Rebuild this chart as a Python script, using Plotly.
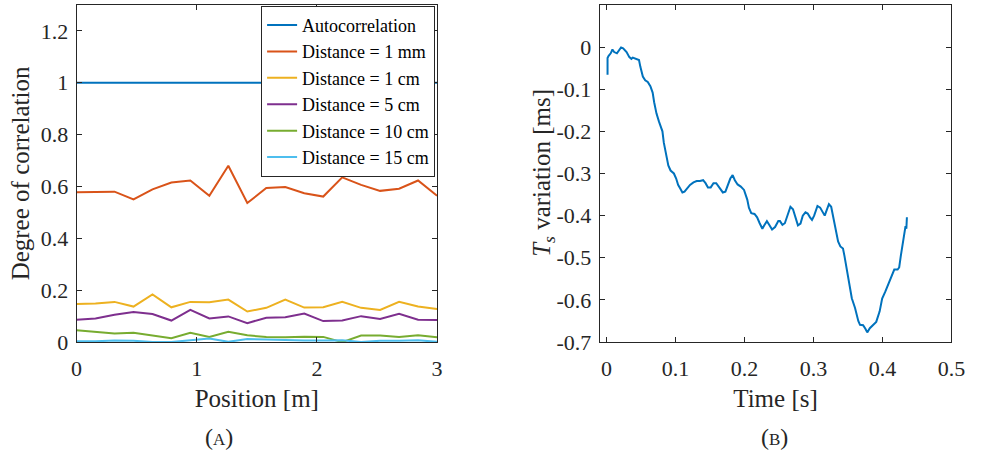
import plotly.graph_objects as go

# ---------------- Data: panel (A) ----------------
position_m = [0, 0.158, 0.316, 0.474, 0.632, 0.789, 0.947, 1.105, 1.263, 1.421,
              1.579, 1.737, 1.895, 2.053, 2.211, 2.368, 2.526, 2.684, 2.842, 3.0]
autocorr = [1.0] * 20
dist_1mm = [0.578, 0.579, 0.580, 0.550, 0.589, 0.615, 0.623, 0.564, 0.680, 0.536,
            0.594, 0.598, 0.574, 0.561, 0.635, 0.606, 0.583, 0.591, 0.623, 0.564]
dist_1cm = [0.147, 0.149, 0.155, 0.137, 0.184, 0.134, 0.155, 0.154, 0.164, 0.118,
            0.132, 0.164, 0.133, 0.134, 0.155, 0.132, 0.124, 0.155, 0.137, 0.128]
dist_5cm = [0.086, 0.091, 0.105, 0.116, 0.108, 0.083, 0.124, 0.091, 0.099, 0.073,
            0.094, 0.096, 0.110, 0.081, 0.083, 0.100, 0.089, 0.109, 0.086, 0.085]
dist_10cm = [0.046, 0.039, 0.033, 0.036, 0.026, 0.015, 0.036, 0.020, 0.040, 0.026,
             0.020, 0.019, 0.021, 0.020, 0.000, 0.025, 0.025, 0.020, 0.026, 0.019]
dist_15cm = [0.003, 0.003, 0.006, 0.005, 0.000, 0.000, 0.007, 0.014, 0.001, 0.012,
             0.010, 0.007, 0.006, 0.006, 0.007, 0.000, 0.005, 0.005, 0.007, 0.001]
series_names = ["Autocorrelation", "Distance = 1 mm", "Distance = 1 cm",
                "Distance = 5 cm", "Distance = 10 cm", "Distance = 15 cm"]
series_colors = ["#0072BD", "#D95319", "#EDB120", "#7E2F8E", "#77AC30", "#4DBEEE"]

# ---------------- Data: panel (B) ----------------
time_s = [0.0014, 0.0014, 0.003, 0.006, 0.0085, 0.011, 0.015, 0.0175, 0.021, 0.024,
          0.029, 0.033, 0.036, 0.038, 0.043, 0.047, 0.049, 0.0526, 0.056, 0.0597,
          0.0635, 0.0668, 0.069, 0.0724, 0.076, 0.081, 0.083, 0.0866, 0.0895, 0.0928,
          0.0976, 0.1009, 0.1037, 0.107, 0.110, 0.113, 0.1165, 0.121, 0.126, 0.1307,
          0.1354, 0.140, 0.1435, 0.147, 0.151, 0.155, 0.159, 0.164, 0.1686, 0.1723,
          0.1757, 0.1794, 0.1828, 0.186, 0.190, 0.1946, 0.1993, 0.2017, 0.204, 0.2064,
          0.2098, 0.2145, 0.2183, 0.222, 0.2259, 0.2287, 0.2325, 0.236, 0.240, 0.2443,
          0.249, 0.2514, 0.255, 0.2585, 0.2618, 0.2666, 0.2703, 0.2737, 0.2775, 0.2812,
          0.2845, 0.2884, 0.2916, 0.295, 0.2979, 0.301, 0.3058, 0.3097, 0.313, 0.3163,
          0.3192, 0.3224, 0.3257, 0.328, 0.332, 0.3357, 0.339, 0.3428, 0.345, 0.3485,
          0.3518, 0.3556, 0.3603, 0.365, 0.3675, 0.372, 0.3755, 0.378, 0.3817, 0.386,
          0.391, 0.396, 0.3996, 0.404, 0.4087, 0.4138, 0.4172, 0.422, 0.4243, 0.4266,
          0.4304, 0.4323, 0.4335, 0.4347, 0.4355]
ts_variation_ms = [-0.066, -0.026, -0.021, -0.015, -0.006, -0.012, -0.015, -0.0085, -0.001, -0.003,
                   -0.012, -0.024, -0.028, -0.025, -0.028, -0.031, -0.047, -0.070, -0.079, -0.083,
                   -0.093, -0.108, -0.131, -0.158, -0.177, -0.200, -0.227, -0.258, -0.281, -0.293,
                   -0.300, -0.312, -0.327, -0.336, -0.345, -0.343, -0.335, -0.327, -0.321, -0.318,
                   -0.318, -0.316, -0.323, -0.333, -0.333, -0.323, -0.323, -0.335, -0.345, -0.343,
                   -0.327, -0.312, -0.304, -0.316, -0.326, -0.331, -0.339, -0.350, -0.362, -0.381,
                   -0.394, -0.396, -0.404, -0.418, -0.431, -0.423, -0.413, -0.422, -0.433, -0.427,
                   -0.413, -0.413, -0.422, -0.418, -0.400, -0.379, -0.385, -0.406, -0.423, -0.419,
                   -0.400, -0.392, -0.395, -0.404, -0.410, -0.400, -0.377, -0.381, -0.392, -0.400,
                   -0.387, -0.373, -0.379, -0.400, -0.435, -0.461, -0.473, -0.478, -0.496, -0.531,
                   -0.565, -0.596, -0.619, -0.650, -0.659, -0.660, -0.669, -0.677, -0.667, -0.661,
                   -0.652, -0.627, -0.597, -0.581, -0.561, -0.538, -0.528, -0.528, -0.523, -0.496,
                   -0.458, -0.431, -0.425, -0.431, -0.404]

a_xticks = [0, 1, 2, 3]
a_xticklabels = ["0", "1", "2", "3"]
a_yticks = [0, 0.2, 0.4, 0.6, 0.8, 1.0, 1.2]
a_yticklabels = ["0", "0.2", "0.4", "0.6", "0.8", "1", "1.2"]
b_xticks = [0, 0.1, 0.2, 0.3, 0.4, 0.5]
b_xticklabels = ["0", "0.1", "0.2", "0.3", "0.4", "0.5"]
b_yticks = [0, -0.1, -0.2, -0.3, -0.4, -0.5, -0.6, -0.7]
b_yticklabels = ["0", "-0.1", "-0.2", "-0.3", "-0.4", "-0.5", "-0.6", "-0.7"]

# ---------------- Figure ----------------
W, H = 984, 462
FONT = "Liberation Serif"
AX = "#262626"
TICKF = dict(family=FONT, size=22, color=AX)
TITLEF = dict(family=FONT, size=25, color=AX)


def px(x):
    return x / W


def py(y):
    return 1 - y / H


def axis(domain, rng, tickvals, ticktext, anchor, tls, title=None, standoff=0):
    d = dict(domain=domain, range=rng, tickmode="array", tickvals=tickvals,
             ticktext=ticktext, anchor=anchor,
             showline=True, linecolor=AX, linewidth=1, mirror="allticks",
             ticks="inside", ticklen=5, tickcolor=AX, tickwidth=1,
             ticklabelstandoff=tls,
             showgrid=False, zeroline=False, tickfont=TICKF)
    if title:
        d["title"] = dict(text=title, font=TITLEF, standoff=standoff)
    return d


fig = go.Figure()
all_a = [autocorr, dist_1mm, dist_1cm, dist_5cm, dist_10cm, dist_15cm]
for name, col, vals in zip(series_names, series_colors, all_a):
    fig.add_trace(go.Scatter(x=position_m, y=vals, mode="lines", name=name,
                             xaxis="x", yaxis="y",
                             line=dict(color=col, width=2)))

fig.add_trace(go.Scatter(x=time_s, y=ts_variation_ms, mode="lines", showlegend=False,
                         xaxis="x2", yaxis="y2",
                         line=dict(color="#0072BD", width=2)))

fig.update_layout(
    xaxis=axis([px(72), px(440)], [0, 3], a_xticks, a_xticklabels, "y", 7,
               "Position [m]", 9),
    yaxis=axis([py(352), py(5)], [0, 1.3], a_yticks, a_yticklabels, "x", 3,
               "Degree of correlation", 3),
    xaxis2=axis([px(606), px(965)], [-0.01, 0.5], b_xticks, b_xticklabels, "y2", 7,
                "Time [s]", 9),
    yaxis2=axis([py(352), py(5)], [-0.7, 0.1], b_yticks, b_yticklabels, "x2", 3),
    width=W, height=H,
    margin=dict(l=0, r=0, t=0, b=0),
    paper_bgcolor="white", plot_bgcolor="white",
    font=dict(family=FONT, color=AX, size=18),
    legend=dict(x=px(438), y=py(6), xanchor="right", yanchor="top",
                bgcolor="white", bordercolor=AX, borderwidth=1,
                font=dict(family=FONT, size=18, color="#000000"),
                tracegroupgap=0, itemwidth=30),
    showlegend=True,
)

# y-axis title of panel (B)
fig.add_annotation(text="<i>T<sub>s</sub></i> variation [ms]", textangle=-90,
                   x=px(549), y=py(178), xref="paper", yref="paper",
                   showarrow=False, xanchor="center", yanchor="middle",
                   font=TITLEF)

for label, xc in [("A", 217), ("B", 784)]:
    fig.add_annotation(text="(<span style='font-size:17px'>" + label + "</span>)",
                       x=px(xc), y=py(450), xref="paper", yref="paper",
                       showarrow=False, xanchor="center", yanchor="middle",
                       font=dict(family=FONT, size=24, color=AX))

fig.write_html("out.html")
